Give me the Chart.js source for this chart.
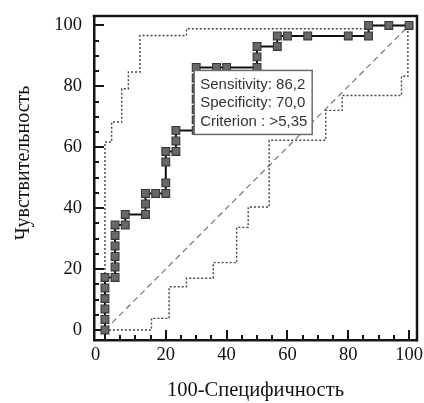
<!DOCTYPE html>
<html><head><meta charset="utf-8">
<script src="https://cdn.jsdelivr.net/npm/chart.js@4.4.0/dist/chart.umd.min.js"></script>
<style>html,body{margin:0;padding:0;background:#fff;}canvas{display:block;}</style>
</head><body>
<canvas id="c" width="424" height="403"></canvas>
<script>
// ROC curve (100-Specificity, Sensitivity)
const rocFpr  = [0,0,0,0,0,0, 3.33,3.33,3.33,3.33,3.33,3.33, 6.67,6.67, 13.33,13.33,13.33, 16.67, 20,20,20,20, 23.33,23.33,23.33, 30,30,30,30,30,30,30, 36.67,40, 50,50,50, 56.67,56.67, 60,66.67,80,86.67,86.67, 93.33,100];
const rocSens = [0,3.45,6.90,10.34,13.79,17.24, 17.24,20.69,24.14,27.59,31.03,34.48, 34.48,37.93, 37.93,41.38,44.83, 44.83, 44.83,48.28,55.17,58.62, 58.62,62.07,65.52, 65.52,68.97,72.41,75.86,79.31,82.76,86.21, 86.21,86.21, 86.21,89.66,93.10, 93.10,96.55, 96.55,96.55,96.55,96.55,100, 100,100];
// 95% confidence bounds (step corners)
const upperFpr  = [0,0,2.2,5.5,7.7,11.5,26.8,86.67,100];
const upperSens = [0,61.7,68.3,79.2,84.7,96.7,98.9,100,100];
const lowerFpr  = [0,15.3,21.1,26.8,35.6,43.3,47.1,54.0,72.6,78.0,97.5,99.6,100];
const lowerSens = [0,3.8,14.2,17.0,22.1,33.7,40.4,62.3,72.1,77.0,83.3,100,100];
// reference diagonal
const diagFpr  = [0,100];
const diagSens = [0,100];
// axes
const tickValues = [0,20,40,60,80,100];
const tickLabels = ['0','20','40','60','80','100'];
const xTitle = '100-Специфичность';
const yTitle = 'Чувствительность';
// criterion box
const criterionFpr = 30;
const criterionSens = 86.21;
const criterionLines = ['Sensitivity: 86,2','Specificity: 70,0','Criterion : >5,35'];

const toPts = (xs, ys) => xs.map((x, i) => ({x: x, y: ys[i]}));
const isMajor = v => tickValues.some(t => Math.abs(t - v) < 1e-6);
const labelFor = v => { const i = tickValues.findIndex(t => Math.abs(t - v) < 1e-6); return i < 0 ? '' : tickLabels[i]; };

const serifFamily = "'Liberation Serif', 'Times New Roman', serif";

const framePlugin = {
  id: 'frame',
  beforeDatasetsDraw(chart) {
    const {ctx, chartArea: a, scales: {x, y}} = chart;
    ctx.save();
    ctx.strokeStyle = '#151515';
    ctx.lineWidth = 2;
    ctx.beginPath();
    x.ticks.forEach(t => {
      const p = Math.round(x.getPixelForValue(t.value));
      const len = isMajor(t.value) ? 10 : 5;
      ctx.moveTo(p, a.bottom);
      ctx.lineTo(p, a.bottom - len);
    });
    y.ticks.forEach(t => {
      const p = Math.round(y.getPixelForValue(t.value));
      const len = isMajor(t.value) ? 10 : 5;
      ctx.moveTo(a.left, p);
      ctx.lineTo(a.left + len, p);
    });
    ctx.stroke();
    ctx.restore();
  },
  afterDatasetsDraw(chart) {
    const {ctx, chartArea: a, scales: {x, y}} = chart;
    // criterion box
    const px = x.getPixelForValue(criterionFpr), py = y.getPixelForValue(criterionSens);
    const bx = px - 2, by = py + 3, bw = 118, bh = 64;
    ctx.save();
    ctx.fillStyle = '#fff';
    ctx.fillRect(bx, by, bw, bh);
    ctx.strokeStyle = '#6a6a6a';
    ctx.lineWidth = 1.5;
    ctx.strokeRect(bx, by, bw, bh);
    ctx.fillStyle = '#333';
    ctx.font = "15px 'Liberation Sans', Arial, sans-serif";
    ctx.textBaseline = 'middle';
    ctx.textAlign = 'left';
    criterionLines.forEach((t, i) => ctx.fillText(t, bx + 6, by + 14 + i * 18.5));
    ctx.restore();
    // top and right frame
    ctx.save();
    ctx.strokeStyle = '#151515';
    ctx.lineWidth = 2.5;
    ctx.beginPath();
    ctx.moveTo(a.left - 1.25, a.top);
    ctx.lineTo(a.right, a.top);
    ctx.lineTo(a.right, a.bottom + 1.25);
    ctx.stroke();
    ctx.restore();
  }
};

new Chart(document.getElementById('c'), {
  type: 'scatter',
  data: {
    datasets: [
      {
        data: toPts(rocFpr, rocSens), showLine: true, order: 0,
        borderColor: '#111', borderWidth: 2,
        pointStyle: 'rect', pointRadius: 5.5,
        pointBackgroundColor: '#686868', pointBorderColor: '#363636', pointBorderWidth: 1.1
      },
      {
        data: toPts(upperFpr, upperSens), showLine: true, stepped: 'before', order: 1,
        borderColor: '#444', borderWidth: 1.4, borderDash: [2, 2], pointRadius: 0
      },
      {
        data: toPts(lowerFpr, lowerSens), showLine: true, stepped: 'before', order: 1,
        borderColor: '#444', borderWidth: 1.4, borderDash: [2, 2], pointRadius: 0
      },
      {
        data: toPts(diagFpr, diagSens), showLine: true, order: 2,
        borderColor: '#777', borderWidth: 1.2, borderDash: [6, 4], pointRadius: 0
      }
    ]
  },
  options: {
    responsive: false,
    devicePixelRatio: 1,
    animation: false,
    layout: {padding: {top: 16, right: 7, left: 0, bottom: 0}},
    plugins: {legend: {display: false}, tooltip: {enabled: false}},
    scales: {
      x: {
        type: 'linear', position: 'bottom', min: -3.6, max: 102.6,
        afterFit: s => { s.height = 63; s.paddingLeft = 0; s.paddingRight = 0; },
        border: {display: true, color: '#151515', width: 2.5},
        grid: {display: true, drawOnChartArea: false, drawTicks: false},
        ticks: {
          stepSize: 5, includeBounds: false, autoSkip: false, maxRotation: 0,
          padding: 4, color: '#111', font: {family: serifFamily, size: 18.5},
          callback: v => { const l = labelFor(v); return l === '0' ? l + '\u2002\u2002' : l; }
        },
        title: {display: true, text: xTitle, color: '#111', font: {family: serifFamily, size: 20.5}, padding: {top: 0, bottom: 0}}
      },
      y: {
        type: 'linear', position: 'left', min: -3.3, max: 103.1,
        afterFit: s => { s.width = 94; s.paddingTop = 0; s.paddingBottom = 0; },
        border: {display: true, color: '#151515', width: 2.5},
        grid: {display: true, drawOnChartArea: false, drawTicks: false},
        ticks: {
          stepSize: 5, includeBounds: false, autoSkip: false,
          padding: 12, color: '#111', font: {family: serifFamily, size: 18.5},
          callback: v => labelFor(v)
        },
        title: {display: true, text: '\u2003\u2002' + yTitle, color: '#111', font: {family: serifFamily, size: 20}, padding: {top: 12, bottom: 0}}
      }
    }
  },
  plugins: [framePlugin]
});
</script>
</body></html>
